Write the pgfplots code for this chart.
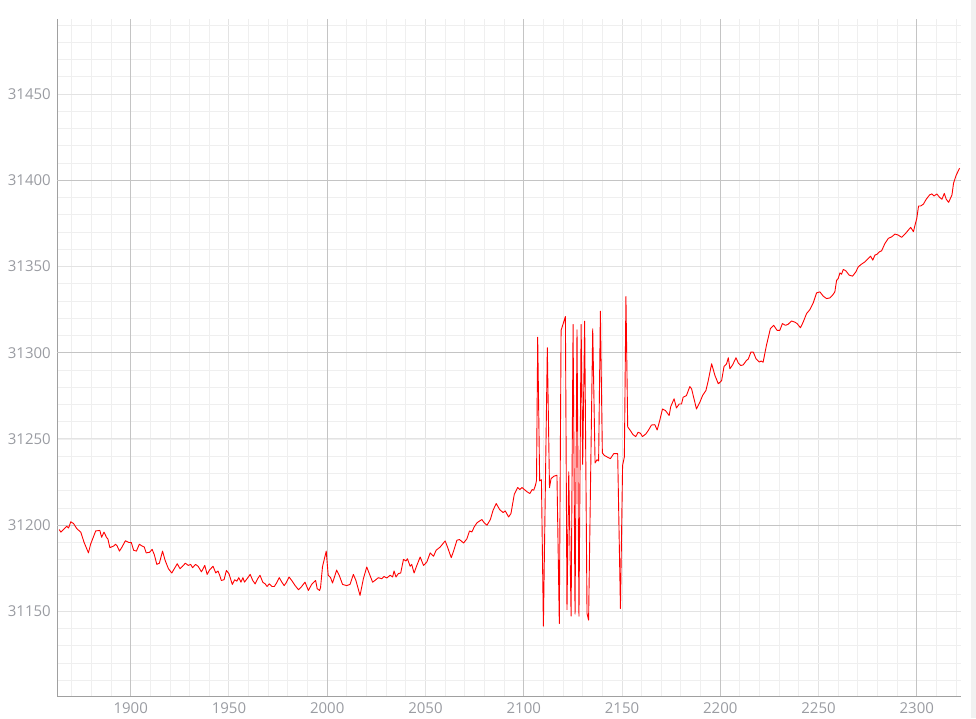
\documentclass[border=0pt]{standalone}
\usepackage{pgfplots}
\pgfplotsset{compat=1.18}
\usepackage{fontspec}
\setmainfont{Open Sans}
\definecolor{gridmaj}{HTML}{C4C4C4}
\definecolor{gridmid}{HTML}{E3E3E3}
\definecolor{gridmin}{HTML}{EFEFEF}
\definecolor{axcol}{HTML}{A0A0A0}
\definecolor{labcol}{HTML}{9A9CA2}
\definecolor{strip}{HTML}{F1F1F1}
\begin{document}
\begin{tikzpicture}
\useasboundingbox (0pt,0pt) rectangle (976pt,718pt);
\fill[strip] (971pt,0pt) rectangle (976pt,718pt);
\begin{axis}[
  at={(57pt,22pt)}, anchor=south west,
  scale only axis, width=904pt, height=677pt,
  xmin=1862.5, xmax=2322.5, ymin=31101, ymax=31493.5,
  axis x line*=bottom, axis y line*=left,
  axis line style={draw=axcol, line width=1pt},
  xtick={1900,1950,2000,2050,2100,2150,2200,2250,2300},
  xticklabels={1900,1950,2000,2050,2100,2150,2200,2250,2300},
  ytick={31150,31200,31250,31300,31350,31400,31450},
  yticklabels={31150,31200,31250,31300,31350,31400,31450},
  minor xtick={1870,1880,...,2320},
  minor ytick={31110,31120,...,31490},
  major tick length=0pt, minor tick length=0pt,
  grid=both,
  major grid style={draw=gridmid, line width=1pt},
  minor grid style={draw=gridmin, line width=1pt},
  extra x ticks={1900,2000,2100,2200,2300},
  extra x tick labels={},
  extra y ticks={31200,31300,31400},
  extra y tick labels={},
  extra tick style={grid=major, major grid style={draw=gridmaj, line width=1pt}},
  tick label style={font=\fontsize{15}{17}\selectfont, text=labcol, inner sep=0pt},
  xticklabel style={anchor=north, yshift=-6.5pt},
  yticklabel style={anchor=east, xshift=-6pt},
  clip=true,
]
\addplot[color=red, line width=0.9pt, line join=round] coordinates {
(1863.6,31197.5) (1864.5,31196) (1866.2,31198) (1867.5,31199.4) (1868.4,31198.4)
(1869.5,31202) (1870.9,31201) (1872.6,31198) (1874.6,31196) (1876.3,31190)
(1878.5,31184) (1879.6,31189) (1882.2,31196.7) (1884.3,31197) (1885.2,31193)
(1886.4,31196) (1887.7,31193) (1888.4,31192) (1889.4,31187) (1891.4,31188)
(1892.3,31189) (1893.1,31188) (1894.3,31185) (1895.6,31187.4) (1897.3,31191)
(1899,31190) (1900.3,31190) (1901.5,31185.5) (1902.9,31185) (1904.4,31189)
(1905.7,31188) (1906.9,31187.4) (1907.9,31184) (1909.6,31184.3) (1910.9,31186)
(1912,31183) (1913.3,31177.3) (1914.6,31178) (1916.2,31185) (1917.5,31179.7)
(1919.2,31174.8) (1920.9,31172.3) (1922.2,31174.8) (1923.7,31177.7) (1925.1,31174.8)
(1926.4,31176.2) (1927.8,31178) (1929.3,31176.7) (1930.5,31177.3) (1931.5,31175.4)
(1933,31177.3) (1934.3,31176.2) (1936,31173) (1937.7,31176.7) (1938.9,31171.5)
(1940.2,31174.2) (1941.9,31176.2) (1943.3,31172.3) (1944.4,31173.5) (1945.3,31171)
(1946.1,31168) (1947.5,31168.4) (1948.7,31173.8) (1950,31171.9) (1951.7,31165.7)
(1952.9,31168.4) (1954,31167.6) (1955,31169.6) (1956.1,31167) (1957.1,31169.6)
(1957.9,31167) (1959.6,31169.6) (1960.8,31171.5) (1962.1,31168) (1963.3,31166)
(1964.6,31169) (1965.8,31171) (1967.2,31167) (1968.4,31166) (1969.4,31164.5)
(1970.5,31166) (1971.9,31164.5) (1973.1,31164.5) (1974.2,31166.5) (1975.6,31169.6)
(1976.9,31167) (1978.1,31165) (1979.3,31167) (1980.6,31170) (1982.3,31167.4)
(1983.7,31165) (1985.4,31162.6) (1987,31164.5) (1988.7,31167) (1990.4,31162.2)
(1992.1,31165.7) (1994.1,31168) (1994.9,31163.2) (1996.1,31162.2) (1996.6,31163.8)
(1997.6,31176) (1999.5,31185) (2000.5,31171) (2001.7,31169.6) (2002.7,31166.5)
(2004.8,31174) (2006.1,31171) (2007.8,31165.7) (2009.9,31165) (2011.6,31165.7)
(2013.3,31171.5) (2014.6,31168) (2016.7,31159.3) (2018.4,31169) (2020.1,31175.8)
(2021.4,31172) (2023.1,31167) (2024.3,31168) (2026,31169.6) (2027.7,31169)
(2028.9,31170.3) (2030.3,31169.4) (2032,31171) (2033.3,31170) (2034,31173.5)
(2035,31170) (2036.2,31172) (2037.4,31172.3) (2038.8,31180.2) (2040.1,31179.3)
(2040.8,31180.6) (2042.2,31176.2) (2043,31177.3) (2044.2,31172.3) (2045.6,31176.7)
(2047.3,31181.6) (2049,31176.7) (2050.7,31178.7) (2052.4,31184) (2054.1,31182)
(2055.4,31185.5) (2057.5,31187.4) (2060,31190.9) (2061.2,31187.4) (2063.1,31181.2)
(2064.3,31185) (2066,31191.3) (2067.3,31191.7) (2069.4,31189.7) (2071.1,31192.2)
(2072.4,31196.7) (2073.6,31196.1) (2074.8,31199) (2076.2,31201.4) (2077.6,31202.5)
(2078.7,31203.3) (2079.9,31201.4) (2081.3,31200) (2083,31203.3) (2084.4,31208.7)
(2086,31212.6) (2087.8,31209) (2089.5,31207.4) (2090.6,31208.3) (2092.3,31204.8)
(2093.5,31206.8) (2095.2,31218) (2096.9,31221.9) (2098,31220.7) (2099.1,31221.9)
(2100.3,31220.7) (2101.7,31219.4) (2103.1,31218.4) (2104.3,31220.7) (2105.1,31220.3)
(2106,31223.3) (2106.5,31226) (2107.1,31309) (2108.1,31225.7) (2109,31226.4)
(2110,31141.5) (2112,31302.9) (2113.1,31221.8) (2113.9,31227) (2115.3,31228.4)
(2116.9,31229) (2118.1,31143) (2119,31313) (2121.2,31321) (2122,31151)
(2122.9,31230.9) (2124.1,31147.3) (2125.1,31316.4) (2126.1,31148.5) (2127.1,31313.3)
(2128.1,31147.3) (2129.2,31316.4) (2130,31235.3) (2131,31318.3) (2132.2,31148.8)
(2133,31145) (2135.1,31313.9) (2136.3,31236.1) (2137.3,31238) (2138.1,31237.3)
(2139,31324.1) (2140,31241.9) (2141,31240.5) (2142.4,31239.6) (2144.1,31238.6)
(2145.8,31241.5) (2147.8,31241.5) (2149.2,31151.7) (2150.3,31234.7) (2151.2,31239.6)
(2152,31332.6) (2152.9,31257) (2154.2,31255) (2155.6,31252.5) (2157,31251.4)
(2158.2,31253.9) (2159.4,31253.3) (2160.4,31251.4) (2162.1,31252.9) (2163.3,31254.8)
(2165,31258.1) (2166.7,31258.3) (2167.9,31255.2) (2169.2,31260.7) (2170.6,31267.4)
(2172.1,31266.5) (2174,31263.6) (2174.8,31268.8) (2176.5,31273.3) (2177.7,31268)
(2179.1,31270.3) (2180.3,31270.3) (2181.1,31274.2) (2182.8,31275.2) (2184.5,31280.4)
(2185.4,31279.1) (2187.9,31267.4) (2189.6,31271.3) (2191,31275.2) (2192.7,31278.1)
(2193.9,31283.9) (2195.6,31293.6) (2197.3,31286.8) (2199,31282) (2200.7,31283.9)
(2201.9,31292) (2203.2,31293.6) (2204.1,31297.1) (2204.9,31290.7) (2206.3,31293)
(2208,31297.1) (2209.2,31294) (2210.5,31292.6) (2211.7,31293) (2213.1,31295.2)
(2214.3,31296.5) (2215.6,31300.4) (2216.8,31300.4) (2218.2,31296.5) (2219.9,31294.6)
(2220.8,31295.2) (2221.8,31294.5) (2223.5,31304.3) (2225.5,31314) (2227.2,31315.9)
(2228.9,31313) (2230.3,31313) (2231.6,31316.9) (2233.2,31315.9) (2234.5,31316.5)
(2236.2,31318.4) (2237.9,31317.8) (2239.1,31316.9) (2240.8,31314.5) (2242.2,31317.8)
(2243.9,31322.7) (2245.6,31325) (2247.3,31328.9) (2249,31334.7) (2250.7,31335.3)
(2252.4,31332.8) (2254.1,31331.4) (2255.8,31331.8) (2257.1,31333.3) (2258.3,31335.3)
(2259.2,31342) (2260,31343) (2260.9,31346.3) (2261.7,31345.5) (2262.6,31348.3)
(2263.9,31347.5) (2265.6,31345) (2267.3,31344.4) (2269,31346.9) (2270.2,31349.8)
(2271.9,31351.4) (2273.6,31352.7) (2275.3,31354.7) (2276.5,31356) (2277.6,31353.7)
(2278.7,31356.6) (2279.9,31357.2) (2281,31358.5) (2282.1,31359.1) (2283.8,31363.4)
(2285.5,31366.3) (2287.2,31367.2) (2288.9,31368.8) (2290.6,31368.2) (2292.3,31366.9)
(2294,31368.8) (2295.7,31371.1) (2296.9,31372.7) (2298.3,31370.2) (2299.1,31374)
(2300,31377.9) (2300.9,31385.1) (2302,31385.1) (2303.4,31386.2) (2304.8,31389)
(2306.5,31391.5) (2307.7,31392.1) (2308.8,31390.9) (2310.2,31392.1) (2311.6,31390.1)
(2312.8,31389) (2314,31392.4) (2315,31389) (2316.2,31387.2) (2317.9,31391.5)
(2318.7,31398.3) (2320.1,31403.1) (2321.8,31407)
};
\end{axis}
\end{tikzpicture}
\end{document}
